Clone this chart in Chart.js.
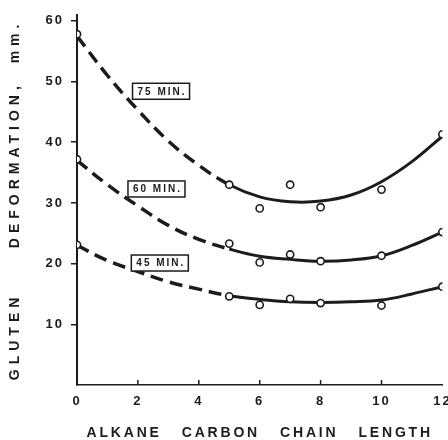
<!DOCTYPE html>
<html>
<head>
<meta charset="utf-8">
<script src="https://cdn.jsdelivr.net/npm/chart.js@4.4.1/dist/chart.umd.min.js"></script>
<style>
  html, body { margin: 0; padding: 0; background: #fff; }
</style>
</head>
<body>
<canvas id="chart" width="448" height="440"></canvas>
<script>
// Measured points (open circles)
const pointX = [0, 5, 6, 7, 8, 10, 12];
const points75 = [57.8, 33.0, 29.1, 33.0, 29.3, 32.2, 41.3];
const points60 = [37.2, 23.3, 20.2, 21.5, 20.4, 21.3, 25.2];
const points45 = [23.1, 14.6, 13.2, 14.2, 13.5, 13.1, 16.2];

// Fitted curves at each carbon number
const curveX = [0, 1, 2, 3, 4, 5, 6, 7, 8, 9, 10, 11, 12];
const curve75 = [57.5, 51.0, 45.3, 40.2, 36.2, 33.0, 31.0, 30.2, 30.3, 31.3, 33.5, 36.8, 41.0];
const curve60 = [37.0, 33.0, 29.5, 26.3, 24.0, 22.4, 21.2, 20.7, 20.4, 20.6, 21.3, 23.0, 25.2];
const curve45 = [23.0, 20.5, 18.7, 17.0, 15.8, 14.7, 14.1, 13.7, 13.6, 13.7, 14.0, 15.0, 16.2];

const curveNames = ['75 MIN.', '60 MIN.', '45 MIN.'];
const xTicks = [0, 2, 4, 6, 8, 10, 12];
const yTicks = [10, 20, 30, 40, 50, 60];

const ink = '#1c1c1c';
const dashEnd = 5; // curves are dashed below this chain length

function toXY(xs, ys) {
    return xs.map((x, i) => ({ x: x, y: ys[i] }));
}

function pointSet(ys) {
    return {
        data: toXY(pointX, ys),
        showLine: false,
        pointRadius: 3.6,
        pointBorderWidth: 1.6,
        pointBorderColor: ink,
        pointBackgroundColor: '#fff'
    };
}

function curveSet(ys) {
    return {
        data: toXY(curveX, ys),
        showLine: true,
        pointRadius: 0,
        borderColor: ink,
        borderWidth: 3,
        tension: 0.4,
        segment: {
            borderDash: ctx => ctx.p1.parsed.x <= dashEnd ? [13, 7] : undefined,
            borderWidth: ctx => ctx.p1.parsed.x <= dashEnd ? 3.5 : 3
        }
    };
}

// Letter spacing for the axis texts (the original is typed with wide spacing)
const spacing = {
    id: 'spacing',
    afterUpdate(chart) {
        [['x', '2.8px'], ['y', '5px']].forEach(([id, sp]) => {
            const s = chart.scales[id];
            if (!s || s._spaced) return;
            const orig = s.drawTitle;
            s.drawTitle = function() {
                const c = this.ctx;
                const old = c.letterSpacing;
                c.letterSpacing = sp;
                orig.apply(this, arguments);
                c.letterSpacing = old;
            };
            s._spaced = true;
        });
    },
    beforeDraw(chart) {
        chart.ctx.letterSpacing = '2px';
    },
    beforeDatasetsDraw(chart) {
        chart.ctx.letterSpacing = '0px';
    }
};

// Short tick marks on the x axis point up into the plot
const innerTicks = {
    id: 'innerTicks',
    afterDraw(chart) {
        const { ctx, chartArea } = chart;
        const x = chart.scales.x;
        ctx.save();
        ctx.strokeStyle = ink;
        ctx.lineWidth = 1.5;
        xTicks.forEach(v => {
            if (v === xTicks[0] || v === xTicks[xTicks.length - 1]) return;
            const px = x.getPixelForValue(v);
            ctx.beginPath();
            ctx.moveTo(px, chartArea.bottom);
            ctx.lineTo(px, chartArea.bottom - 5);
            ctx.stroke();
        });
        ctx.restore();
    }
};

// Boxed labels naming each curve
const curveTags = {
    id: 'curveTags',
    afterDatasetsDraw(chart, args, opts) {
        const { ctx } = chart;
        const xs = chart.scales.x, ys = chart.scales.y;
        ctx.save();
        ctx.font = 'bold 10px "Liberation Sans", Arial, sans-serif';
        ctx.letterSpacing = '2px';
        ctx.textAlign = 'center';
        ctx.textBaseline = 'middle';
        curveNames.forEach((name, i) => {
            const at = opts.at[i];
            const cx = xs.getPixelForValue(at[0]);
            const cy = ys.getPixelForValue(at[1]);
            const w = ctx.measureText(name).width + 8;
            const h = 16;
            ctx.fillStyle = '#fff';
            ctx.fillRect(cx - w / 2, cy - h / 2, w, h);
            ctx.strokeStyle = ink;
            ctx.lineWidth = 1.5;
            ctx.strokeRect(cx - w / 2, cy - h / 2, w, h);
            ctx.fillStyle = ink;
            ctx.fillText(name, cx + 1, cy + 0.5);
        });
        ctx.restore();
    }
};

const tickFont = { family: '"Liberation Sans", Arial, sans-serif', size: 13, weight: 'bold' };
const titleFont = { family: '"Liberation Sans", Arial, sans-serif', size: 14, weight: 'bold', lineHeight: 1 };

new Chart(document.getElementById('chart'), {
    type: 'scatter',
    data: {
        datasets: [
            pointSet(points75), pointSet(points60), pointSet(points45),
            curveSet(curve75), curveSet(curve60), curveSet(curve45)
        ]
    },
    options: {
        responsive: false,
        animation: false,
        layout: { padding: { top: 12, right: 0, left: 0, bottom: 0 } },
        plugins: {
            legend: { display: false },
            tooltip: { enabled: false },
            curveTags: { at: [[2.76, 48.4], [2.61, 32.3], [2.72, 20.1]] }
        },
        scales: {
            x: {
                type: 'linear',
                min: 0,
                max: 12,
                afterBuildTicks: s => { s.ticks = xTicks.map(v => ({ value: v })); },
                afterFit: s => { s.height = 55; s.paddingRight = 4; },
                grid: { display: false, drawTicks: false },
                border: { color: ink, width: 1.5 },
                ticks: { color: ink, font: tickFont, padding: 9, maxRotation: 0 },
                title: {
                    display: true,
                    text: 'ALKANE   CARBON   CHAIN   LENGTH',
                    color: ink,
                    font: titleFont,
                    padding: { top: 0, bottom: 0 }
                }
            },
            y: {
                min: 0,
                max: 61,
                afterBuildTicks: s => { s.ticks = yTicks.map(v => ({ value: v })); },
                afterFit: s => { s.width = 77; },
                grid: { drawOnChartArea: false, tickLength: 6, color: ink, lineWidth: 1.5 },
                border: { color: ink, width: 2 },
                ticks: { color: ink, font: tickFont, padding: 7 },
                title: {
                    display: true,
                    text: 'GLUTEN     DEFORMATION,  mm.',
                    color: ink,
                    font: titleFont,
                    padding: { top: 8, bottom: 0 }
                }
            }
        }
    },
    plugins: [spacing, innerTicks, curveTags]
});
</script>
</body>
</html>
